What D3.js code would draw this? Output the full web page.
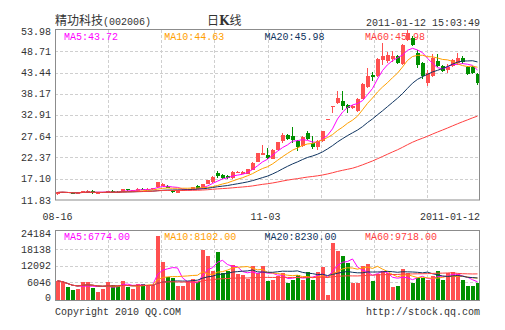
<!DOCTYPE html>
<html><head><meta charset="utf-8">
<script src="https://cdn.jsdelivr.net/npm/d3@7"></script>
<style>
html,body{margin:0;padding:0;background:#fff;}
svg{display:block;}
.mono{font-family:"Liberation Mono","DejaVu Sans Mono",monospace;font-size:10px;}
</style></head><body>
<svg id="c" width="505" height="330"></svg>
<script>
const stockName = "精功科技";
const stockCode = "(002006)";
const chartKind = ["日", "K", "线"];
const timestamp = "2011-01-12 15:03:49";

const open  = [13.2,13.6,13.85,13.6,13.45,13.6,13.7,14.0,13.5,13.6,13.75,14.05,13.9,13.9,14.45,14.2,14.1,14.6,14.4,14.5,
  15.0,15.3,15.3,14.3,13.65,14.2,14.3,14.3,15.3,14.7,15.9,16.3,18.45,18.0,17.8,17.2,18.7,18.3,18.3,19.3,
  21.3,23.0,23.0,22.0,24.3,26.4,27.9,27.6,26.4,25.1,28.4,25.95,24.9,26.5,31.85,35.0,35.9,36.45,35.45,34.65,
  33.8,36.95,39.8,42.9,42.5,46.6,46.2,46.8,47.5,45.55,51.6,52.0,48.3,45.8,40.85,42.5,46.4,45.0,44.1,45.0,
  45.8,47.0,44.7,44.7,43.05];
const high  = [13.8,13.9,13.9,13.7,13.7,14.1,14.3,14.2,13.7,13.8,14.15,14.25,14.0,14.6,14.6,14.4,14.7,14.9,14.7,14.9,
  16.3,16.1,15.6,14.4,14.4,14.5,14.6,15.1,15.5,15.9,16.9,17.8,19.1,18.3,18.0,19.0,18.9,19.0,19.6,21.3,
  23.6,25.5,24.8,24.5,26.3,28.4,28.2,29.9,26.6,27.6,29.0,27.6,26.7,29.0,31.95,35.1,38.8,38.8,35.6,35.5,
  37.2,40.9,44.55,43.5,47.0,50.75,48.5,48.7,47.9,50.6,53.98,52.4,49.0,46.1,44.1,48.0,48.0,45.4,45.5,46.9,
  48.3,47.6,45.1,45.0,43.3];
const low   = [13.1,13.5,13.5,13.35,13.4,13.5,13.6,13.3,13.4,13.5,13.7,13.8,13.7,13.8,14.1,14.1,14.0,14.3,14.3,14.4,
  14.9,15.2,14.7,13.6,13.6,14.1,14.2,14.2,14.5,14.6,15.8,16.1,17.2,17.1,17.0,17.1,18.6,18.2,18.2,19.2,
  21.2,22.9,22.0,21.9,24.2,25.95,26.7,26.0,24.1,24.9,26.8,24.55,24.3,26.3,31.85,33.4,35.7,34.2,33.4,34.4,
  33.6,36.8,39.6,41.4,42.3,45.4,45.8,46.1,45.5,45.3,51.3,49.9,44.6,41.75,40.2,42.3,44.7,43.6,43.4,44.8,
  45.3,45.5,42.8,43.0,40.3];
const close = [13.7,13.8,13.6,13.45,13.6,14.0,14.1,13.5,13.6,13.7,14.05,13.9,13.8,14.5,14.2,14.3,14.55,14.4,14.6,14.8,
  16.2,15.8,14.8,13.7,14.3,14.35,14.5,14.95,14.6,15.8,16.7,17.6,17.8,17.35,17.2,18.85,18.8,18.85,19.4,21.1,
  23.4,23.6,22.2,24.3,26.1,27.9,27.0,26.8,24.9,27.4,27.0,24.9,26.5,28.9,31.95,35.1,37.1,35.05,34.65,35.05,
  36.95,40.6,42.5,42.25,46.8,47.45,47.85,47.5,45.8,50.3,53.25,50.35,45.4,42.5,43.3,47.05,45.0,43.9,44.7,46.6,
  47.05,46.05,43.05,43.3,40.85];
const volume = [6460,5870,4150,3000,3560,5870,6220,3910,2420,3560,5870,4950,4720,6460,4380,3560,5300,5300,5070,5070,
  23000,13350,7830,7370,4490,4720,6460,7020,5870,17800,15530,10130,17100,9330,10130,12440,8980,8520,7020,11850,
  9430,11850,6320,6910,8400,9220,5770,6910,8640,6910,9780,6910,9780,11500,1140,20500,17560,15640,12980,5770,
  5770,11750,12680,6320,8980,10120,9220,4250,4600,10710,9220,5770,7500,7500,6670,8400,10120,6910,9220,9570,
  8980,6670,4600,4600,5770];

const priceTicks = [11.83,17.10,22.37,27.64,32.91,38.17,43.44,48.71,53.98];
const volTicks = [0,6046,12092,18138,24184];
const xTicks = [{i:0,label:"08-16",anchor:"middle"},{i:42,label:"11-03",anchor:"start"},{i:84,label:"2011-01-12",anchor:"end"}];
const maPeriods = [5,10,20,60];
const maNames = ["MA5","MA10","MA20","MA60"];
const maColors = ["#ff00ff","#ffa000","#0f3460","#ff4040"];
const priceLegend = ["43.72","44.63","45.98","45.98"];
const volLegend = ["6774.00","8102.00","8230.00","9718.00"];
const footerLeft = "Copyright 2010 QQ.COM";
const footerRight = "http://stock.qq.com";

const RED = "#ff5050", GREEN = "#009000", GRID = "#cfcfcf", BORDER = "#8c8c8c", TXT = "#333";
const L = 55, R = 480;
const mainTop = 30, mainBot = 200, volTop = 230, volBot = 300;

const svg = d3.select("#c");
const idx = d3.range(close.length);
const x = d3.scaleBand().domain(idx).range([L, R]).paddingInner(0.2).paddingOuter(0.1);
const y = d3.scaleLinear().domain([priceTicks[0], priceTicks[priceTicks.length-1]]).range([mainBot, mainTop]);
const yv = d3.scaleLinear().domain([0, volTicks[volTicks.length-1]]).range([298.5, 232.5]);

function ma(arr, n){ return arr.map((d,i)=>d3.mean(arr.slice(Math.max(0,i-n+1), i+1))); }

// header
const t1 = svg.append("text").attr("x", L).attr("y", 25).attr("fill", TXT);
t1.append("tspan").attr("style","font-family:'Noto Sans CJK SC';font-size:12px").text(stockName);
t1.append("tspan").attr("class","mono").text(stockCode);
const t2 = svg.append("text").attr("x", 207).attr("y", 25).attr("fill", TXT).attr("style","font-family:'Noto Sans CJK SC';font-size:12px");
t2.append("tspan").text(chartKind[0]);
t2.append("tspan").attr("font-weight","bold").attr("font-family","'DejaVu Serif'").text(chartKind[1]);
t2.append("tspan").text(chartKind[2]);
svg.append("text").attr("class","mono").attr("x", R).attr("y", 26).attr("text-anchor","end").attr("fill", TXT).text(timestamp);

// grids
const vgx = d3.range(1,8).map(k => Math.round(L + (R-L)*k/8) + 0.5);
function grid(top, bot, ys){
  const g = svg.append("g").attr("stroke", GRID).attr("stroke-dasharray","3,2").attr("fill","none");
  ys.forEach(v => g.append("line").attr("x1",L).attr("x2",R).attr("y1",v).attr("y2",v));
  vgx.forEach(v => g.append("line").attr("x1",v).attr("x2",v).attr("y1",top).attr("y2",bot));
}
grid(mainTop, mainBot, priceTicks.slice(1,-1).map(t => Math.round(y(t))+0.5));
grid(volTop, volBot, volTicks.slice(1,-1).map(t => Math.round(yv(t))+0.5));

// y labels
svg.append("g").selectAll("text").data(priceTicks).join("text").attr("class","mono")
  .attr("x", 51).attr("text-anchor","end").attr("fill", TXT)
  .attr("y", d => Math.max(y(d), 31.5) + 3.5).text(d => d.toFixed(2));
svg.append("g").selectAll("text").data(volTicks).join("text").attr("class","mono")
  .attr("x", 51).attr("text-anchor","end").attr("fill", TXT)
  .attr("y", d => Math.min(Math.max(yv(d), 233), 297) + 3.5).text(d => d);

// legends
maNames.forEach((n,k) => {
  svg.append("text").attr("class","mono").attr("x", 64 + 100.3*k).attr("y", 40).attr("fill", maColors[k]).text(n + ":" + priceLegend[k]);
  svg.append("text").attr("class","mono").attr("x", 64 + 100.3*k).attr("y", 240).attr("fill", maColors[k]).text(n + ":" + volLegend[k]);
});

// candles
const bw = x.bandwidth();
const cg = svg.append("g").attr("shape-rendering","crispEdges");
idx.forEach(i => {
  const up = close[i] >= open[i];
  const col = up ? RED : GREEN;
  const cx = Math.floor(x(i) + bw/2) + 0.5;
  cg.append("line").attr("x1",cx).attr("x2",cx).attr("y1",y(high[i])).attr("y2",y(low[i])).attr("stroke",col);
  const yt = y(Math.max(open[i],close[i])), yb = y(Math.min(open[i],close[i]));
  cg.append("rect").attr("x", x(i)).attr("width", bw).attr("y", yt).attr("height", Math.max(1, yb-yt)).attr("fill", col);
  cg.append("rect").attr("x", x(i)).attr("width", bw).attr("y", yv(volume[i])).attr("height", volBot - yv(volume[i])).attr("fill", col);
});

// MA lines
const mx = i => x(i) + bw/2;
maPeriods.forEach((p,k) => {
  const mp = ma(close, p), mv = ma(volume, p);
  svg.append("path").attr("fill","none").attr("stroke", maColors[k]).attr("stroke-width",1)
    .attr("d", d3.line().x((d,i)=>mx(i)).y(d=>y(d))(mp));
  svg.append("path").attr("fill","none").attr("stroke", maColors[k]).attr("stroke-width",1)
    .attr("d", d3.line().x((d,i)=>mx(i)).y(d=>yv(d))(mv));
});

// borders
svg.append("rect").attr("x",L+0.5).attr("y",mainTop-0.5).attr("width",R-L-1).attr("height",mainBot-mainTop+0.5).attr("fill","none").attr("stroke",BORDER);
svg.append("rect").attr("x",L+0.5).attr("y",volTop+0.5).attr("width",R-L-1).attr("height",volBot-volTop).attr("fill","none").attr("stroke",BORDER);

// x labels
svg.append("g").selectAll("text").data(xTicks).join("text").attr("class","mono").attr("fill",TXT)
  .attr("x", d => d.anchor==="end" ? R : d.anchor==="start" ? x(d.i)-15 : x(d.i)+bw/2)
  .attr("text-anchor", d => d.anchor==="start" ? "start" : d.anchor)
  .attr("y", 220).text(d => d.label);

// footer
svg.append("text").attr("class","mono").attr("x", L).attr("y", 315).attr("fill", TXT).text(footerLeft);
svg.append("text").attr("class","mono").attr("x", R).attr("y", 315).attr("text-anchor","end").attr("fill", TXT).text(footerRight);
</script></body></html>
